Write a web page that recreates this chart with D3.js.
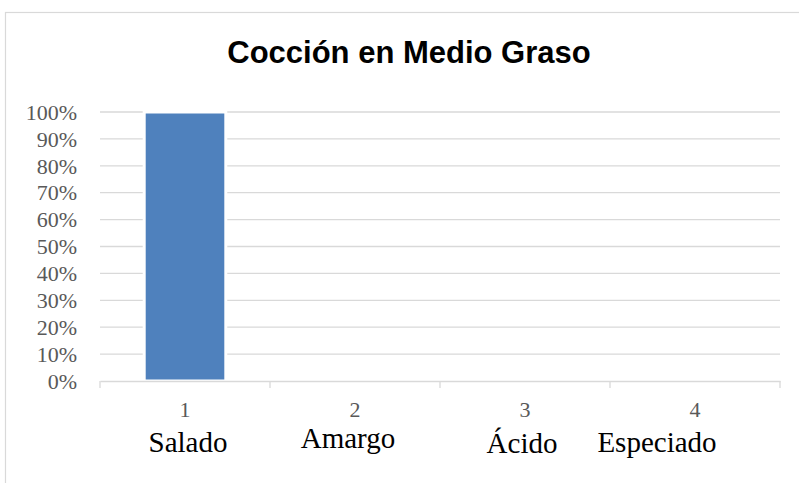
<!DOCTYPE html>
<html><head><meta charset="utf-8">
<script src="https://cdn.jsdelivr.net/npm/d3@7"></script>
<style>body{margin:0;background:#fff}svg{display:block}</style>
</head><body>
<script>
const categories = ["1", "2", "3", "4"];
const categoryNames = ["Salado", "Amargo", "Ácido", "Especiado"];
const values = [1.0, 0, 0, 0];
const yTicks = [0, 0.1, 0.2, 0.3, 0.4, 0.5, 0.6, 0.7, 0.8, 0.9, 1.0];
const title = "Cocción en Medio Graso";

const W = 799, H = 483;
const svg = d3.select("body").append("svg").attr("width", W).attr("height", H);

// outer chart border (extends beyond right/bottom)
svg.append("rect").attr("x", 5.5).attr("y", 12.5).attr("width", 900).attr("height", 600)
  .attr("fill", "none").attr("stroke", "#d9d9d9").attr("stroke-width", 1.2);

const x = d3.scaleBand().domain(categories).range([100, 780]).paddingInner(0.52).paddingOuter(0.26);
const xb = d3.scaleBand().domain(categories).range([100, 780]);
const y = d3.scaleLinear().domain([0, 1]).range([381, 112]);

// gridlines
svg.append("g").selectAll("line").data(yTicks.slice(1)).join("line")
  .attr("x1", 100).attr("x2", 780).attr("y1", d => y(d)).attr("y2", d => y(d))
  .attr("stroke", "#d9d9d9").attr("stroke-width", 1.3);

// y axis labels
const yAxis = d3.axisLeft(y).tickValues(yTicks).tickFormat(d3.format(".0%")).tickSize(0).tickPadding(0);
const gy = svg.append("g").attr("transform", "translate(77,0)").call(yAxis);
gy.select(".domain").remove();
gy.selectAll("text").attr("font-family", "'Liberation Serif', 'Times New Roman', serif")
  .attr("font-size", 22).attr("fill", "#595959").attr("dy", "0.33em");

// bars
svg.append("g").selectAll("rect").data(values).join("rect")
  .attr("x", (d, i) => x(categories[i])).attr("width", x.bandwidth())
  .attr("y", d => y(d)).attr("height", d => y(0) - y(d))
  .attr("fill", "#4f81bd").attr("stroke", "#fff").attr("stroke-width", 3);

// x axis
const xAxis = d3.axisBottom(xb).tickSizeInner(0).tickSizeOuter(0).tickPadding(0).tickFormat(d => d);
const gx = svg.append("g").attr("transform", `translate(0,${y(0)})`).call(xAxis);
gx.select(".domain").attr("stroke", "#d9d9d9").attr("stroke-width", 1.3);
gx.selectAll("text").attr("font-family", "'Liberation Serif', 'Times New Roman', serif")
  .attr("font-size", 22).attr("fill", "#595959").attr("dy", null).attr("y", 36);
// boundary ticks
const bounds = categories.map(c => xb(c)).concat([xb.range()[1]]);
gx.append("g").selectAll("line").data(bounds).join("line")
  .attr("x1", d => d).attr("x2", d => d).attr("y1", 0).attr("y2", 7)
  .attr("stroke", "#d9d9d9").attr("stroke-width", 1.3);

// category names (hand-placed text in original; small nudges)
const nameNudge = [3, -7, -3, -38];
const nameBase = [452, 448, 453, 452];
svg.append("g").selectAll("text").data(categoryNames).join("text")
  .attr("x", (d, i) => xb(categories[i]) + xb.bandwidth() / 2 + nameNudge[i])
  .attr("y", (d, i) => nameBase[i])
  .attr("text-anchor", "middle")
  .attr("font-family", "'Liberation Serif', 'Times New Roman', serif")
  .attr("font-size", 29).attr("fill", "#000").text(d => d);

// title
svg.append("text").attr("x", 409).attr("y", 63).attr("text-anchor", "middle")
  .attr("font-family", "'Liberation Sans', Arial, sans-serif").attr("font-weight", "bold")
  .attr("font-size", 31).attr("fill", "#000").text(title);
</script>
</body></html>
